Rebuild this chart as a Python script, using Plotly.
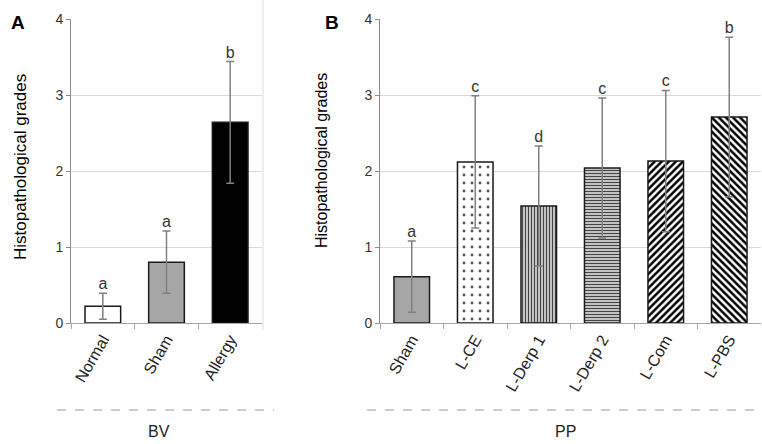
import plotly.graph_objects as go

# Panel A (BV)
cats_a = ["Normal", "Sham", "Allergy"]
vals_a = [0.22, 0.80, 2.64]
errs_a = [0.17, 0.41, 0.80]
letters_a = ["a", "a", "b"]

# Panel B (PP)
cats_b = ["Sham", "L-CE", "L-Derp 1", "L-Derp 2", "L-Com", "L-PBS"]
vals_b = [0.61, 2.12, 1.54, 2.04, 2.13, 2.71]
errs_b = [0.47, 0.87, 0.79, 0.92, 0.93, 1.05]
letters_b = ["a", "c", "d", "c", "c", "b"]

y_ticks = [0, 1, 2, 3, 4]
group_a = "BV"
group_b = "PP"
y_title = "Histopathological grades"

W, H = 762, 444
FONT = "Liberation Sans, Arial, sans-serif"

def px_x(p):
    return p / W

def px_y(p):
    return (H - p) / H

fig = go.Figure()

err_style = dict(type="data", color="#808080", thickness=1.5, width=4)
edge = dict(color="#1a1a1a", width=1.5)

fig.add_trace(go.Bar(
    x=cats_a, y=vals_a, xaxis="x", yaxis="y", width=0.56,
    marker=dict(color=["white", "#a6a6a6", "black"], line=edge),
    error_y=dict(array=errs_a, **err_style), showlegend=False,
))
fig.add_trace(go.Scatter(
    x=cats_a, y=[v + e for v, e in zip(vals_a, errs_a)], xaxis="x", yaxis="y",
    mode="text", text=letters_a, textposition="top center",
    textfont=dict(family=FONT, size=16, color="#333333"), showlegend=False,
))

b_colors = ["#a6a6a6", "white", "white", "white", "white", "white"]
b_shapes = ["", ".", "|", "-", "/", "\\"]
b_fg = ["#222222", "#555555", "#444444", "#444444", "#000000", "#000000"]
b_sizes = [8, 8, 3, 3, 5, 5]
b_solid = [0.2, 0.1, 0.55, 0.55, 0.5, 0.5]
for i, c in enumerate(cats_b):
    pat = dict(shape=b_shapes[i], fgcolor=b_fg[i], bgcolor=b_colors[i],
               size=b_sizes[i], solidity=b_solid[i], fillmode="overlay", fgopacity=1)
    fig.add_trace(go.Bar(
        x=[c], y=[vals_b[i]], xaxis="x2", yaxis="y2", width=0.56,
        marker=dict(color=b_colors[i], line=edge, pattern=pat),
        error_y=dict(array=[errs_b[i]], **err_style), showlegend=False,
    ))
fig.add_trace(go.Scatter(
    x=cats_b, y=[v + e for v, e in zip(vals_b, errs_b)], xaxis="x2", yaxis="y2",
    mode="text", text=letters_b, textposition="top center",
    textfont=dict(family=FONT, size=16, color="#333333"), showlegend=False,
))

ydom = [px_y(323), px_y(19)]
yax = dict(
    range=[0, 4], tickvals=y_ticks, domain=ydom, showgrid=True, gridcolor="#d9d9d9",
    gridwidth=1, showline=True, linecolor="#8c8c8c", linewidth=1, ticks="outside",
    ticklen=4, tickcolor="#8c8c8c", zeroline=False, automargin=False,
    tickfont=dict(family=FONT, size=14, color="#333333"),
)
xax = dict(
    showline=True, linecolor="#a6a6a6", linewidth=1, ticks="outside", ticklen=5,
    tickcolor="#a6a6a6", tickson="boundaries", tickangle=-60, showgrid=False,
    automargin=False, categoryorder="array",
    tickfont=dict(family=FONT, size=16, color="#222222"),
)

fig.update_layout(
    width=W, height=H, margin=dict(l=0, r=0, t=0, b=0, autoexpand=False),
    paper_bgcolor="white", plot_bgcolor="white", barmode="overlay",
    xaxis=dict(domain=[px_x(71), px_x(262)], anchor="y", categoryarray=cats_a, **xax),
    yaxis=dict(anchor="x", **yax),
    xaxis2=dict(domain=[px_x(380), px_x(761)], anchor="y2", categoryarray=cats_b, **xax),
    yaxis2=dict(anchor="x2", **yax),
    font=dict(family=FONT),
)

annots = [
    dict(text="<b>A</b>", x=px_x(18), y=px_y(22), font=dict(size=19, color="black")),
    dict(text="<b>B</b>", x=px_x(332), y=px_y(22), font=dict(size=19, color="black")),
    dict(text=y_title, x=px_x(20), y=px_y(167), textangle=-90, font=dict(size=17, color="black")),
    dict(text=y_title, x=px_x(322), y=px_y(161), textangle=-90, font=dict(size=16, color="black")),
    dict(text=group_a, x=px_x(159), y=px_y(431), font=dict(size=16, color="#222222")),
    dict(text=group_b, x=px_x(565), y=px_y(431), font=dict(size=16, color="#222222")),
]
for a in annots:
    a.update(xref="paper", yref="paper", showarrow=False, xanchor="center", yanchor="middle")
    a["font"]["family"] = FONT
    fig.add_annotation(**a)

shapes = [
    dict(type="line", x0=px_x(57), x1=px_x(274), y0=px_y(410), y1=px_y(410),
         line=dict(color="#9a9a9a", width=1, dash="dash")),
    dict(type="line", x0=px_x(367), x1=px_x(759), y0=px_y(410), y1=px_y(410),
         line=dict(color="#9a9a9a", width=1, dash="dash")),
    dict(type="line", x0=px_x(263), x1=px_x(263), y0=px_y(0), y1=px_y(330),
         line=dict(color="#dcdcdc", width=1)),
]
for s in shapes:
    s.update(xref="paper", yref="paper")
    fig.add_shape(**s)

fig.write_html(
    "out.html",
    config={"displayModeBar": False},
    post_script="document.body.style.margin='0';document.body.style.overflow='hidden';",
)
